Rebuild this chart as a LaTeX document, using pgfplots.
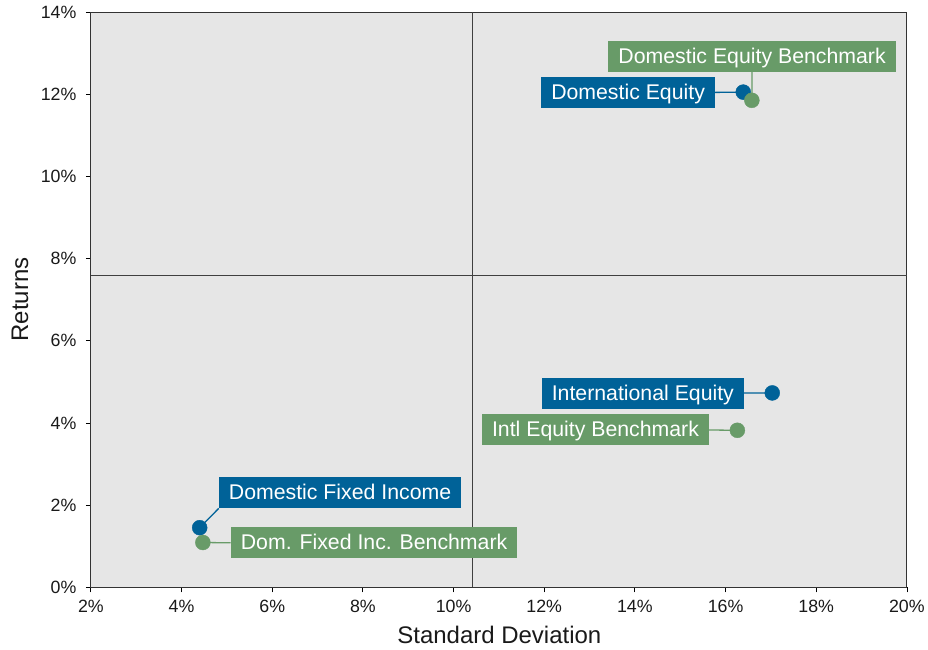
\documentclass[border=0pt]{standalone}
\usepackage{fontspec}
\setmainfont{Liberation Sans}
\usepackage{pgfplots}
\pgfplotsset{compat=1.18}
\definecolor{cblue}{HTML}{006298}
\definecolor{cgreen}{HTML}{689B68}
\definecolor{bg}{HTML}{E6E6E6}
\tikzset{lbl/.style={text=white, inner xsep=10bp, inner ysep=8.5bp, text height=14bp, text depth=0bp,
    font=\fontsize{21.3bp}{24bp}\selectfont}}
\begin{document}
\begin{tikzpicture}
\path (-91bp,-62bp) rectangle (837bp,588bp);
\begin{axis}[
  anchor=south west, at={(0,0)},
  scale only axis, width=817bp, height=576bp,
  xmin=2, xmax=20, ymin=0, ymax=14,
  xtick={2,4,...,20}, ytick={0,2,...,14},
  /pgf/number format/assume math mode=true,
  /pgf/number format/fixed, /pgf/number format/precision=0,
  xticklabel={\pgfmathprintnumber{\tick}\%},
  yticklabel={\pgfmathprintnumber{\tick}\%},
  tick label style={font=\fontsize{17.8bp}{20bp}\selectfont, text=black!90},
  xticklabel style={yshift=-4bp},
  yticklabel style={xshift=-6bp},
  tick align=outside, major tick length=5bp,
  xtick pos=left, ytick pos=left,
  tick style={black, line width=0.8bp},
  axis line style={black!80, line width=0.9bp},
  axis background/.style={fill=bg},
  xlabel={Standard Deviation}, ylabel={Returns},
  label style={font=\fontsize{24bp}{28bp}\selectfont, text=black!90},
  xlabel style={at={(axis description cs:0.5006,-0.0833)}, anchor=center},
  ylabel style={at={(axis description cs:-0.0869,0.5)}, anchor=center},
  clip=false,
]
% quadrant lines
\addplot[black!75, line width=0.8bp] coordinates {(10.42,0) (10.42,14)};
\addplot[black!75, line width=0.8bp] coordinates {(2,7.58) (20,7.58)};
% labels
\node[lbl, fill=cgreen, anchor=center] (deb) at (axis cs:16.585,12.918) {Domestic Equity Benchmark};
\node[lbl, fill=cblue, anchor=east] (de) at (axis cs:15.770,12.043) {Domestic Equity};
\node[lbl, fill=cblue, anchor=east] (ie) at (axis cs:16.409,4.727) {International Equity};
\node[lbl, fill=cgreen, anchor=east] (ieb) at (axis cs:15.638,3.828) {Intl Equity Benchmark};
\node[lbl, fill=cblue, anchor=south west] (dfi) at (axis cs:4.820,1.920) {Domestic Fixed Income};
\node[lbl, fill=cgreen, anchor=west] (dfib) at (axis cs:5.084,1.082) {Dom. Fixed Inc. Benchmark};
% connectors
\draw[cgreen, line width=1.3bp] (axis cs:16.58,11.85) -- (deb.south);
\draw[cblue, line width=1.3bp] (axis cs:16.39,12.05) -- (de.east);
\draw[cblue, line width=1.3bp] (axis cs:17.03,4.73) -- (ie.east);
\draw[cgreen, line width=1.3bp] (axis cs:16.26,3.82) -- (ieb.east);
\draw[cblue, line width=1.3bp] (axis cs:4.40,1.45) -- (dfi.south west);
\draw[cgreen, line width=1.3bp] (axis cs:4.47,1.09) -- (dfib.west);
% points
\addplot[only marks, mark=*, mark size=7.5bp, cblue, mark options={draw=cblue, fill=cblue}] coordinates {
 (16.39,12.05) (17.03,4.73) (4.40,1.45)};
\addplot[only marks, mark=*, mark size=7.5bp, cgreen, mark options={draw=cgreen, fill=cgreen}] coordinates {
 (16.58,11.85) (16.26,3.82) (4.47,1.09)};
\end{axis}
\end{tikzpicture}
\end{document}
